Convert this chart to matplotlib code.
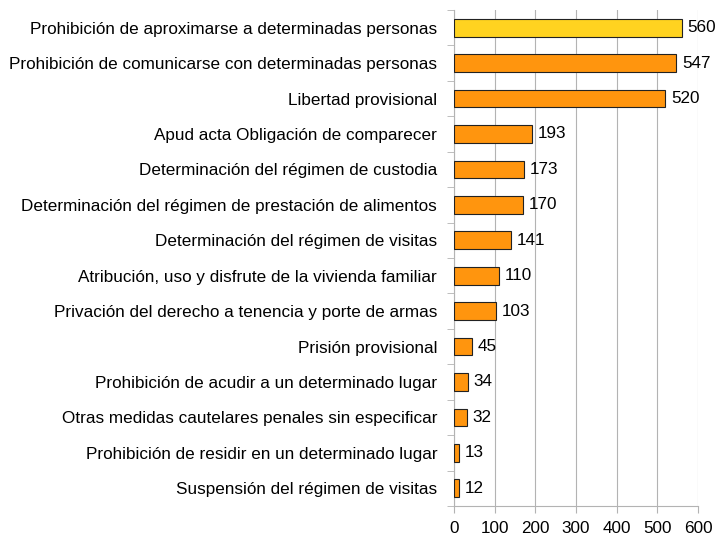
import matplotlib.pyplot as plt
import numpy as np

plt.rcParams['font.family'] = ['Liberation Sans', 'DejaVu Sans']

# data
labels = [
    "Prohibición de aproximarse a determinadas personas",
    "Prohibición de comunicarse con determinadas personas",
    "Libertad provisional",
    "Apud acta Obligación de comparecer",
    "Determinación del régimen de custodia",
    "Determinación del régimen de prestación de alimentos",
    "Determinación del régimen de visitas",
    "Atribución, uso y disfrute de la vivienda familiar",
    "Privación del derecho a tenencia y porte de armas",
    "Prisión provisional",
    "Prohibición de acudir a un determinado lugar",
    "Otras medidas cautelares penales sin especificar",
    "Prohibición de residir en un determinado lugar",
    "Suspensión del régimen de visitas",
]
values = [560, 547, 520, 193, 173, 170, 141, 110, 103, 45, 34, 32, 13, 12]
xticks = [0, 100, 200, 300, 400, 500, 600]

colors = ['#FFD320'] + ['#FF950E'] * (len(values) - 1)
fs = 12.3

fig = plt.figure(figsize=(7.17, 5.4), dpi=100)
ax = fig.add_axes([0.633, 0.063, 0.3405, 0.9185])

y = np.arange(len(values))
ax.barh(y, values, height=0.5, color=colors, edgecolor='#222222', linewidth=0.8, zorder=3)
for yi, v in zip(y, values):
    ax.text(v + 14, yi, str(v), va='center', ha='left', fontsize=fs, zorder=4)

ax.set_ylim(len(values) - 0.5, -0.5)
ax.set_xlim(0, 600)
ax.set_xticks(xticks)
ax.set_yticks(y)
ax.set_yticklabels(labels, fontsize=fs)
ax.set_yticks(np.arange(len(values) + 1) - 0.5, minor=True)
ax.tick_params(axis='y', which='major', length=0, pad=12)
ax.tick_params(axis='y', which='minor', length=5, color='#b3b3b3')
ax.tick_params(axis='x', length=5, color='#b3b3b3', labelsize=fs, pad=6)
ax.xaxis.grid(True, color='#b3b3b3', linewidth=0.8, zorder=0)

for s in ['top', 'right']:
    ax.spines[s].set_visible(False)
for s in ['left', 'bottom']:
    ax.spines[s].set_color('#b3b3b3')
    ax.spines[s].set_linewidth(0.8)

fig.savefig('out.png', dpi=100)
